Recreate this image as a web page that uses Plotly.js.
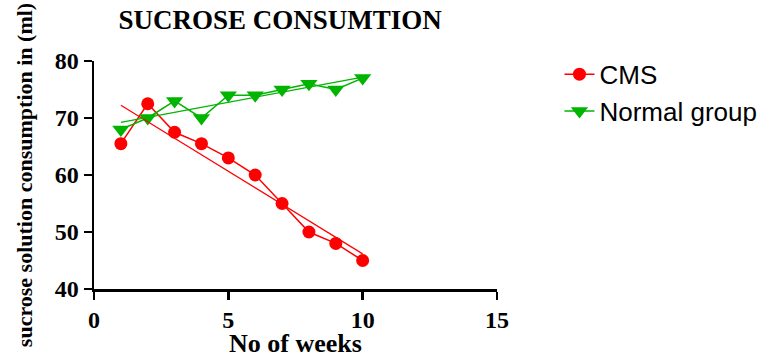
<!DOCTYPE html>
<html>
<head>
<meta charset="utf-8">
<script src="https://cdn.plot.ly/plotly-3.0.1.min.js"></script>
<style>html,body{margin:0;padding:0;background:#fff;}#chart{width:778px;height:358px;}</style>
</head>
<body>
<div id="chart"></div>
<script>
const weeks = [1, 2, 3, 4, 5, 6, 7, 8, 9, 10];
const cmsValues = [65.5, 72.5, 67.5, 65.5, 63, 60, 55, 50, 48, 45];
const normalValues = [68, 70, 73, 70, 74, 74, 75, 76, 75, 77];
const seriesNames = ["CMS", "Normal group"];
const xTicks = [0, 5, 10, 15];
const yTicks = [40, 50, 60, 70, 80];

function linFit(xs, ys) {
  const n = xs.length;
  const mx = xs.reduce((a, b) => a + b, 0) / n;
  const my = ys.reduce((a, b) => a + b, 0) / n;
  let sxy = 0, sxx = 0;
  for (let i = 0; i < n; i++) { sxy += (xs[i] - mx) * (ys[i] - my); sxx += (xs[i] - mx) ** 2; }
  const b = sxy / sxx, a = my - b * mx;
  const x0 = Math.min(...xs), x1 = Math.max(...xs);
  return { x: [x0, x1], y: [a + b * x0, a + b * x1] };
}
const cmsFit = linFit(weeks, cmsValues);
const normFit = linFit(weeks, normalValues);

const red = "#ff0000", green = "#00b400";
const data = [
  { x: weeks, y: cmsValues, name: seriesNames[0], mode: "lines+markers", type: "scatter",
    line: { color: red, width: 1.5 }, marker: { color: red, symbol: "circle", size: 13 } },
  { x: weeks, y: normalValues, name: seriesNames[1], mode: "lines+markers", type: "scatter",
    line: { color: green, width: 1.5 }, marker: { color: green, symbol: "triangle-down", size: 15 } },
  { x: cmsFit.x, y: cmsFit.y, mode: "lines", type: "scatter", showlegend: false, hoverinfo: "skip",
    line: { color: red, width: 1.2 } },
  { x: normFit.x, y: normFit.y, mode: "lines", type: "scatter", showlegend: false, hoverinfo: "skip",
    line: { color: green, width: 1.2 } }
];

const serif = "Liberation Serif";
const layout = {
  width: 778, height: 358,
  margin: { l: 94, r: 281, t: 61, b: 69 },
  paper_bgcolor: "#fff", plot_bgcolor: "#fff",
  title: { text: "<b>SUCROSE CONSUMTION</b>", x: 0.36, xanchor: "center", y: 0.945, yanchor: "middle",
    font: { family: serif, size: 27, color: "#000" } },
  xaxis: {
    range: [0, 15], tickvals: xTicks, ticktext: xTicks.map(String),
    showline: true, linecolor: "#000", linewidth: 2.5,
    ticks: "outside", ticklen: 8, tickwidth: 2.5, tickcolor: "#000",
    showgrid: false, zeroline: false,
    tickfont: { family: "Liberation Serif", size: 24, color: "#000", weight: "bold" },
    title: { text: "<b>No of weeks</b>", standoff: 4,
      font: { family: serif, size: 26, color: "#000" } }
  },
  yaxis: {
    range: [40, 80], tickvals: yTicks, ticktext: yTicks.map(String),
    showline: true, linecolor: "#000", linewidth: 2.5,
    ticks: "outside", ticklen: 8, tickwidth: 2.5, tickcolor: "#000",
    showgrid: false, zeroline: false,
    tickfont: { family: "Liberation Serif", size: 24, color: "#000", weight: "bold" },
    title: { text: "<b>sucrose solution consumption in (ml)</b>", standoff: 16,
      font: { family: serif, size: 22, color: "#000" } }
  },
  legend: { x: 1.155, y: 1.045, xanchor: "left", yanchor: "top", bgcolor: "rgba(0,0,0,0)",
    font: { family: "Liberation Sans", size: 26, color: "#000" }, tracegroupgap: 0 },
  showlegend: true
};
Plotly.newPlot("chart", data, layout, { displayModeBar: false, staticPlot: true });
</script>
</body>
</html>
